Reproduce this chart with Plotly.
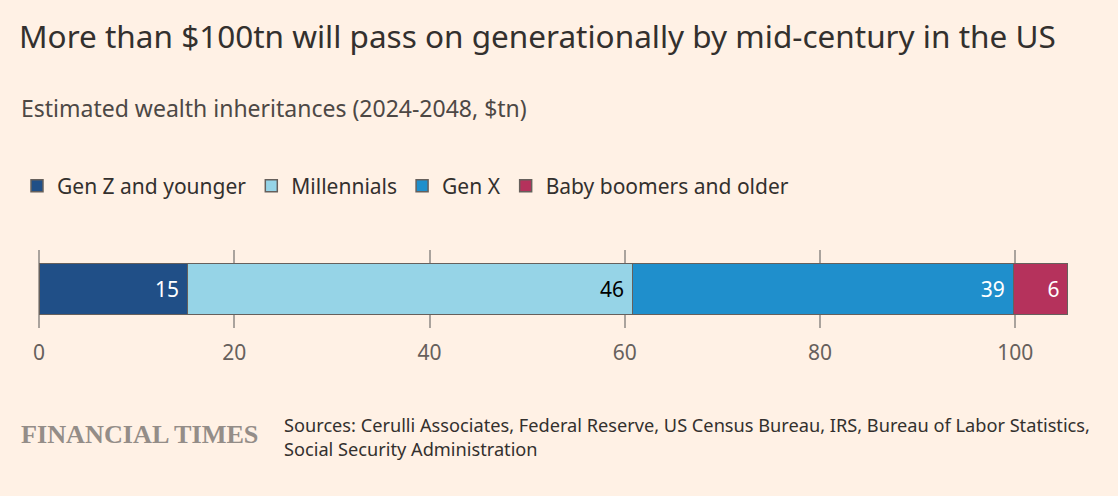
import plotly.graph_objects as go

# Data
generations = ["Gen Z and younger", "Millennials", "Gen X", "Baby boomers and older"]
values_tn = [15.2, 45.6, 39.0, 5.6]
bar_labels = ["15", "46", "39", "6"]
colors = ["#204f87", "#96d4e7", "#1f8fcc", "#b5325c"]
label_colors = ["#ffffff", "#000000", "#ffffff", "#ffffff"]
x_ticks = [0, 20, 40, 60, 80, 100]
category = ["All"]

BG = "#fff1e5"
TEXT = "#33302e"
FONT = "Noto Sans"

fig = go.Figure()
for name, v, lab, c, lc in zip(generations, values_tn, bar_labels, colors, label_colors):
    fig.add_trace(go.Bar(
        x=[v], y=category, name=name, orientation="h",
        marker=dict(color=c, line=dict(color="#66605c", width=1.5)),
        text=[lab + "\u00a0"], textposition="inside", insidetextanchor="end",
        textfont=dict(color=lc, size=21, family=FONT),
        width=0.66, cliponaxis=False,
    ))

W, H = 1118, 496
ml, mr, mt, mb = 39, 50, 263 - 13, 168
pw = W - ml - mr
ph = H - mt - mb

def px_x(p):
    return (p - ml) / pw

def px_y(p):
    return (H - mb - p) / ph

fig.update_layout(
    width=W, height=H,
    barmode="stack",
    paper_bgcolor=BG, plot_bgcolor=BG,
    margin=dict(l=ml, r=mr, t=mt, b=mb),
    font=dict(family=FONT, color=TEXT),
    showlegend=True,
    legend=dict(
        orientation="h", x=px_x(17), y=px_y(186), xanchor="left", yanchor="middle",
        font=dict(size=21, color=TEXT, family=FONT), bgcolor="rgba(0,0,0,0)",
        traceorder="normal", itemclick=False, itemdoubleclick=False,
    ),
    xaxis=dict(
        range=[0, sum(values_tn)], tickvals=x_ticks, ticktext=[str(t) for t in x_ticks],
        showgrid=True, gridcolor="#aaa39d", gridwidth=1.5,
        zeroline=True, zerolinecolor="#aaa39d", zerolinewidth=1.5,
        showline=False, ticks="", ticklabelstandoff=10,
        tickfont=dict(size=21, color="#66605c", family=FONT),
        fixedrange=True,
    ),
    yaxis=dict(range=[-0.5, 0.5], showticklabels=False, showgrid=False, zeroline=False,
               fixedrange=True),
    title=dict(
        text="More than $100tn will pass on generationally by mid-century in the US",
        xref="container", yref="container", x=19 / W, y=1 - 37 / H,
        xanchor="left", yanchor="middle",
        font=dict(size=31.5, color=TEXT, family=FONT),
    ),
    annotations=[
        dict(text="Estimated wealth inheritances (2024-2048, $tn)", xref="paper", yref="paper",
             x=px_x(19), y=px_y(108), xanchor="left", yanchor="middle", showarrow=False,
             font=dict(size=23, color="#4d4845", family=FONT)),
        dict(text="FINANCIAL TIMES", xref="paper", yref="paper",
             x=px_x(19), y=px_y(434), xanchor="left", yanchor="middle", showarrow=False,
             font=dict(size=26.2, color="#948d88", family="Liberation Serif", weight="bold")),
        dict(text="Sources: Cerulli Associates, Federal Reserve, US Census Bureau, IRS, Bureau of Labor Statistics,<br>Social Security Administration",
             xref="paper", yref="paper", align="left",
             x=px_x(282), y=px_y(437), xanchor="left", yanchor="middle", showarrow=False,
             font=dict(size=18.2, color=TEXT, family=FONT)),
    ],
)

fig.write_html("out.html", config={"displayModeBar": False},
               post_script="document.body.style.margin='0px';")
